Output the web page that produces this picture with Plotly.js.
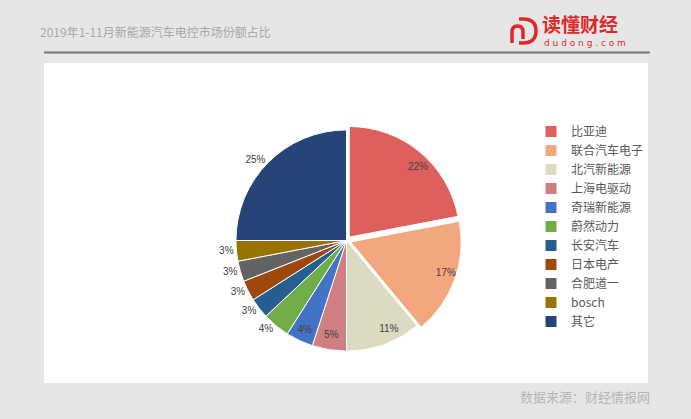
<!DOCTYPE html>
<html>
<head>
<meta charset="utf-8">
<script src="https://cdn.plot.ly/plotly-3.0.1.min.js"></script>
<style>html,body{margin:0;padding:0;background:#e6e6e6;}#chart{width:691px;height:419px;}</style>
</head>
<body>
<div id="chart"></div>
<script>
const labels = ['比亚迪','联合汽车电子','北汽新能源','上海电驱动','奇瑞新能源','蔚然动力','长安汽车','日本电产','合肥道一','bosch','其它'];
const values = [22, 17, 11, 5, 4, 4, 3, 3, 3, 3, 25];
const colors = ['#DE5F5B','#F2A77E','#DDDAC2','#CF7F82','#4472C4','#70AD47','#255E91','#9E480E','#636363','#997300','#264478'];
const pulls = [0.04, 0.04, 0, 0, 0, 0, 0, 0, 0, 0, 0];
// where each percent label sits: 'rim' = inside near the rim, 'inside', 'outside'
const labelPlace = ['rim', 'rim', 'rim', 'inside', 'inside', 'outside', 'outside', 'outside', 'outside', 'outside', 'outside'];
const titleText = '2019年1-11月新能源汽车电控市场份额占比';
const sourceText = '数据来源：财经情报网';

const W = 691, H = 419;
const px = x => x / W;
const py = y => 1 - y / H;
const cx = 346.5, cy = 240.5;
const side = 230, sideInner = 184;

const labelFont = {family: 'Liberation Sans, Arial, sans-serif', size: 10, color: '#404040'};

const mainPie = {
  type: 'pie',
  labels: labels,
  values: values,
  sort: false,
  direction: 'clockwise',
  rotation: 0,
  pull: pulls,
  marker: {colors: colors, line: {color: '#ffffff', width: 1}},
  texttemplate: '%{percent:.0%}',
  textposition: labelPlace.map(v => v === 'rim' ? 'none' : v),
  insidetextorientation: 'horizontal',
  textfont: labelFont,
  insidetextfont: labelFont,
  outsidetextfont: labelFont,
  hoverinfo: 'label+percent',
  domain: {x: [px(cx - side/2), px(cx + side/2)], y: [py(cy + side/2), py(cy - side/2)]}
};

const labelRing = {
  type: 'pie',
  labels: labels,
  values: values,
  sort: false,
  direction: 'clockwise',
  rotation: 0,
  pull: pulls,
  showlegend: false,
  marker: {colors: labels.map(() => 'rgba(0,0,0,0)'), line: {width: 0}},
  texttemplate: '%{percent:.0%}',
  textposition: labelPlace.map(v => v === 'rim' ? 'outside' : 'none'),
  textfont: labelFont,
  outsidetextfont: labelFont,
  hoverinfo: 'skip',
  domain: {x: [px(cx - sideInner/2), px(cx + sideInner/2)], y: [py(cy + sideInner/2), py(cy - sideInner/2)]}
};

const layout = {
  width: W, height: H,
  margin: {l: 0, r: 0, t: 0, b: 0},
  paper_bgcolor: '#e6e6e6',
  plot_bgcolor: 'rgba(0,0,0,0)',
  title: {
    text: titleText,
    x: px(40), xanchor: 'left', xref: 'paper',
    y: py(33), yanchor: 'middle', yref: 'paper',
    font: {family: 'Noto Sans CJK SC, sans-serif', size: 12, color: '#a6a6a6'}
  },
  showlegend: true,
  legend: {
    x: px(531), xanchor: 'left',
    y: py(117), yanchor: 'top',
    bgcolor: 'rgba(0,0,0,0)',
    font: {family: 'Noto Sans CJK SC, sans-serif', size: 12, color: '#595959'},
    traceorder: 'normal'
  },
  shapes: [
    {type: 'rect', xref: 'paper', yref: 'paper', x0: px(44), x1: px(648), y0: py(383), y1: py(63), fillcolor: '#ffffff', line: {width: 0}, layer: 'below'},
    {type: 'line', xref: 'paper', yref: 'paper', x0: px(44), x1: px(650), y0: py(52.5), y1: py(52.5), line: {color: '#777777', width: 2.2}},
    {type: 'path', xref: 'paper', yref: 'paper', layer: 'above',
     path: 'M ' + px(519) + ' ' + py(19) + ' L ' + px(523) + ' ' + py(19) + ' Q ' + px(536) + ' ' + py(19) + ' ' + px(536) + ' ' + py(31) + ' Q ' + px(536) + ' ' + py(43) + ' ' + px(523) + ' ' + py(43) + ' L ' + px(519) + ' ' + py(43),
     line: {color: '#e0282a', width: 3.5}},
    {type: 'path', xref: 'paper', yref: 'paper', layer: 'above',
     path: 'M ' + px(512) + ' ' + py(43) + ' L ' + px(512) + ' ' + py(32) + ' Q ' + px(512) + ' ' + py(26) + ' ' + px(517.5) + ' ' + py(26) + ' Q ' + px(523) + ' ' + py(26) + ' ' + px(523) + ' ' + py(32) + ' L ' + px(523) + ' ' + py(39),
     line: {color: '#e0282a', width: 3.5}}
  ],
  annotations: [
    {text: '<b>读懂财经</b>', xref: 'paper', yref: 'paper', x: px(540), y: py(23), xanchor: 'left', yanchor: 'middle', showarrow: false,
     font: {family: 'Noto Sans CJK SC, sans-serif', size: 19, color: '#e0282a'}},
    {text: 'd u d o n g . c o m', xref: 'paper', yref: 'paper', x: px(542), y: py(42.5), xanchor: 'left', yanchor: 'middle', showarrow: false,
     font: {family: 'DejaVu Sans, sans-serif', size: 9, color: '#e0282a'}},
    {text: sourceText, xref: 'paper', yref: 'paper', x: px(652), y: py(396), xanchor: 'right', yanchor: 'middle', showarrow: false,
     font: {family: 'Noto Sans CJK SC, sans-serif', size: 13, color: '#b5b5b5'}}
  ]
};

Plotly.newPlot('chart', [mainPie, labelRing], layout, {displayModeBar: false, staticPlot: true});
</script>
</body>
</html>
